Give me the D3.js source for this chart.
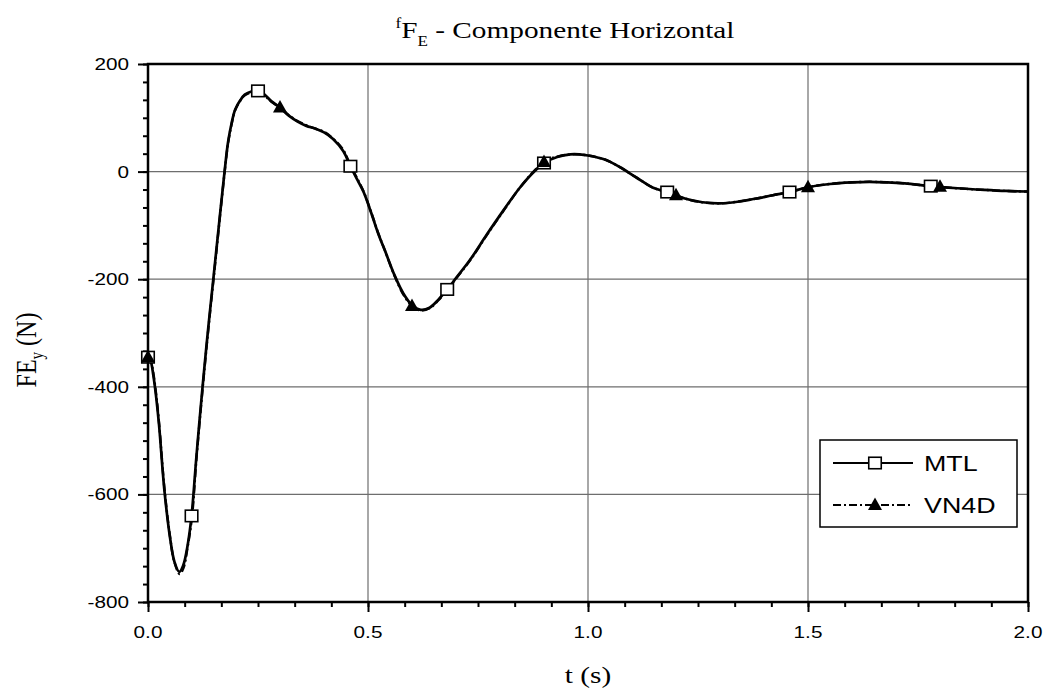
<!DOCTYPE html>
<html>
<head>
<meta charset="utf-8">
<script src="https://cdn.jsdelivr.net/npm/d3@7"></script>
<style>
  body { margin: 0; background: #fff; }
  svg { display: block; }
</style>
</head>
<body>
<svg id="chart" width="1046" height="692"></svg>
<script>
// Horizontal component of the force, two models
const timeMTL = [0, 0.006, 0.012, 0.018, 0.025, 0.037, 0.05, 0.06, 0.071, 0.08, 0.09, 0.099, 0.11, 0.124, 0.137, 0.151, 0.163, 0.174, 0.182, 0.19, 0.198, 0.21, 0.22, 0.235, 0.25, 0.265, 0.28, 0.3, 0.32, 0.34, 0.36, 0.38, 0.4, 0.42, 0.444, 0.46, 0.475, 0.49, 0.507, 0.524, 0.54, 0.56, 0.58, 0.6, 0.62, 0.64, 0.66, 0.68, 0.7, 0.732, 0.77, 0.807, 0.845, 0.875, 0.9, 0.93, 0.96, 0.98, 1.0, 1.04, 1.073, 1.11, 1.148, 1.18, 1.22, 1.26, 1.3, 1.34, 1.376, 1.42, 1.458, 1.5, 1.55, 1.6, 1.64, 1.68, 1.72, 1.78, 1.84, 1.9, 1.95, 2.0];
const forceMTL = [-345, -352, -378, -415, -470, -590, -680, -725, -744, -732, -695, -640, -530, -400, -290, -180, -85, 0, 55, 90, 115, 133, 143, 149, 150, 143, 131, 119, 104, 93, 85, 80, 73, 61, 38, 10, -14, -38, -76, -117, -150, -192, -226, -248, -257, -253, -238, -219, -198, -164, -117, -73, -30, -2, 16, 27, 32, 32, 30, 22, 8, -11, -30, -38, -50, -57, -59, -56, -51, -44, -38, -29, -23, -20, -19, -20, -22, -27, -31, -34, -36, -37];

const timeVN4D = [0, 0.006, 0.012, 0.018, 0.025, 0.037, 0.05, 0.06, 0.072, 0.081, 0.09, 0.1, 0.11, 0.124, 0.137, 0.151, 0.163, 0.174, 0.182, 0.19, 0.198, 0.21, 0.22, 0.235, 0.25, 0.265, 0.28, 0.3, 0.32, 0.34, 0.36, 0.38, 0.4, 0.42, 0.444, 0.46, 0.475, 0.49, 0.507, 0.524, 0.54, 0.56, 0.58, 0.6, 0.62, 0.64, 0.66, 0.68, 0.7, 0.732, 0.77, 0.807, 0.845, 0.875, 0.9, 0.93, 0.96, 0.98, 1.0, 1.04, 1.073, 1.11, 1.148, 1.18, 1.22, 1.26, 1.3, 1.34, 1.376, 1.42, 1.458, 1.5, 1.55, 1.6, 1.64, 1.68, 1.72, 1.78, 1.84, 1.9, 1.95, 2.0];
const forceVN4D = [-345, -350, -374, -410, -466, -586, -678, -726, -748, -736, -698, -642, -535, -405, -294, -184, -88, -2, 53, 88, 114, 132, 142, 147, 148, 141, 130, 119, 105, 94, 86, 80, 74, 62, 40, 12, -12, -37, -75, -116, -150, -193, -228, -250, -258, -254, -239, -220, -199, -165, -118, -74, -30, -1, 18, 28, 32, 32, 30, 22, 8, -11, -30, -38, -50, -57, -59, -56, -51, -44, -38, -29, -23, -20, -19, -20, -22, -27, -31, -34, -36, -37];

// Marker positions along each curve
const markTimeMTL = [0, 0.099, 0.25, 0.46, 0.68, 0.9, 1.18, 1.458, 1.779];
const markForceMTL = [-345, -640, 150, 10, -219, 16, -38, -38, -27];
const markTimeVN4D = [0, 0.3, 0.6, 0.9, 1.2, 1.5, 1.8];
const markForceVN4D = [-345, 119, -250, 18, -44, -29, -28];

const xTicks = [0, 0.5, 1.0, 1.5, 2.0];
const yTicks = [200, 0, -200, -400, -600, -800];
const seriesNames = ["MTL", "VN4D"];

const svg = d3.select("#chart");
const plotL = 148, plotR = 1028, plotT = 64, plotB = 602;
const stretch = 1.22; // text is drawn wider than tall

const x = d3.scaleLinear().domain([0, 2]).range([plotL, plotR]);
const y = d3.scaleLinear().domain([-800, 200]).range([plotB, plotT]);

// grid
const grid = svg.append("g");
grid.selectAll("line.vx").data(xTicks.filter(d => d > 0 && d < 2)).join("line")
  .attr("x1", d => x(d)).attr("x2", d => x(d)).attr("y1", plotT).attr("y2", plotB)
  .attr("stroke", "#6e6e6e").attr("stroke-width", 1.2);
grid.selectAll("line.hy").data(yTicks.filter(d => d < 200 && d > -800)).join("line")
  .attr("x1", plotL).attr("x2", plotR).attr("y1", d => y(d)).attr("y2", d => y(d))
  .attr("stroke", "#6e6e6e").attr("stroke-width", 1.2);

// axes with outward ticks
const xMinor = d3.range(0, 2.0001, 0.5 / 6);
const yMinor = d3.range(-800, 200.001, 200 / 6);
const xAxis = d3.axisBottom(x).tickValues(xMinor).tickSize(5).tickFormat("");
const xAxisMajor = d3.axisBottom(x).tickValues(xTicks).tickSize(10).tickFormat("");
const yAxis = d3.axisLeft(y).tickValues(yMinor).tickSize(5).tickFormat("");
const yAxisMajor = d3.axisLeft(y).tickValues(yTicks).tickSize(10).tickFormat("");
[ [xAxis, `translate(0,${plotB})`], [xAxisMajor, `translate(0,${plotB})`],
  [yAxis, `translate(${plotL},0)`], [yAxisMajor, `translate(${plotL},0)`] ].forEach(([ax, tr]) => {
  const g = svg.append("g").attr("transform", tr).call(ax);
  g.select(".domain").remove();
  g.selectAll("line").attr("stroke", "#000").attr("stroke-width", 2);
});

// tick labels
svg.append("g").selectAll("text").data(xTicks).join("text")
  .attr("transform", d => `translate(${x(d)},638) scale(${stretch},1)`)
  .attr("text-anchor", "middle")
  .attr("font-family", "Liberation Sans, Arial, sans-serif").attr("font-size", 17)
  .text(d => d3.format(".1f")(d));
svg.append("g").selectAll("text").data(yTicks).join("text")
  .attr("transform", d => `translate(129,${y(d) + 6}) scale(${stretch},1)`)
  .attr("text-anchor", "end")
  .attr("font-family", "Liberation Sans, Arial, sans-serif").attr("font-size", 17)
  .text(d => d);

// curves
const line = d3.line().x(d => x(d[0])).y(d => y(d[1])).curve(d3.curveCatmullRom.alpha(0.5));
const mtl = d3.zip(timeMTL, forceMTL);
const vn4d = d3.zip(timeVN4D, forceVN4D);
svg.append("path").datum(mtl).attr("d", line)
  .attr("fill", "none").attr("stroke", "#000").attr("stroke-width", 2.7);
svg.append("path").datum(vn4d).attr("d", line)
  .attr("fill", "none").attr("stroke", "#000").attr("stroke-width", 2.4)
  .attr("stroke-dasharray", "8,3,2,3");

// markers
const sq = 12.5, sqh = 11.5;
function square(g, cx, cy) {
  g.append("rect").attr("x", cx - sq / 2).attr("y", cy - sqh / 2)
    .attr("width", sq).attr("height", sqh)
    .attr("fill", "#fff").attr("stroke", "#000").attr("stroke-width", 1.6);
}
function triangle(g, cx, cy) {
  const w = 14, h = 12.5;
  g.append("path")
    .attr("d", `M${cx},${cy - h * 0.6}L${cx + w / 2},${cy + h * 0.4}L${cx - w / 2},${cy + h * 0.4}Z`)
    .attr("fill", "#000");
}
const marks = svg.append("g");
d3.zip(markTimeMTL, markForceMTL).forEach(([t, v]) => square(marks, x(t), y(v)));
d3.zip(markTimeVN4D, markForceVN4D).forEach(([t, v]) => triangle(marks, x(t), y(v)));

// plot frame
svg.append("rect").attr("x", plotL).attr("y", plotT)
  .attr("width", plotR - plotL).attr("height", plotB - plotT)
  .attr("fill", "none").attr("stroke", "#000").attr("stroke-width", 2.5);

// legend
const lg = svg.append("g");
const lx = 820, ly = 440, lw = 197, lh = 87;
lg.append("rect").attr("x", lx).attr("y", ly).attr("width", lw).attr("height", lh)
  .attr("fill", "#fff").attr("stroke", "#000").attr("stroke-width", 1.5);
const rows = [ly + 23, ly + 65];
seriesNames.forEach((name, i) => {
  const ry = rows[i];
  lg.append("line").attr("x1", lx + 13).attr("x2", lx + 93).attr("y1", ry).attr("y2", ry)
    .attr("stroke", "#000").attr("stroke-width", 2)
    .attr("stroke-dasharray", i === 1 ? "8,3,2,3" : null);
  if (i === 0) square(lg, lx + 55, ry); else triangle(lg, lx + 55, ry);
  lg.append("text").attr("transform", `translate(${lx + 104},${ry + 8}) scale(${stretch},1)`)
    .attr("font-family", "Liberation Sans, Arial, sans-serif").attr("font-size", 22)
    .text(name);
});

// titles
const title = svg.append("text")
  .attr("transform", `translate(565,38) scale(${stretch},1)`)
  .attr("text-anchor", "middle")
  .attr("font-family", "Liberation Serif, Times New Roman, serif").attr("font-size", 24);
title.append("tspan").attr("font-size", 14).attr("dy", -10).text("f");
title.append("tspan").attr("dy", 10).text("F");
title.append("tspan").attr("font-size", 14).attr("dy", 8).text("E");
title.append("tspan").attr("dy", -8).text(" - Componente Horizontal");

svg.append("text")
  .attr("transform", `translate(588,683) scale(${stretch},1)`)
  .attr("text-anchor", "middle")
  .attr("font-family", "Liberation Serif, Times New Roman, serif").attr("font-size", 24)
  .text("t (s)");

const yl = svg.append("text")
  .attr("transform", `translate(36,350) scale(${stretch},1) rotate(-90)`)
  .attr("text-anchor", "middle")
  .attr("font-family", "Liberation Serif, Times New Roman, serif").attr("font-size", 24);
yl.append("tspan").text("FE");
yl.append("tspan").attr("font-size", 15).attr("dy", 6).text("y");
yl.append("tspan").attr("dy", -6).text(" (N)");
</script>
</body>
</html>
